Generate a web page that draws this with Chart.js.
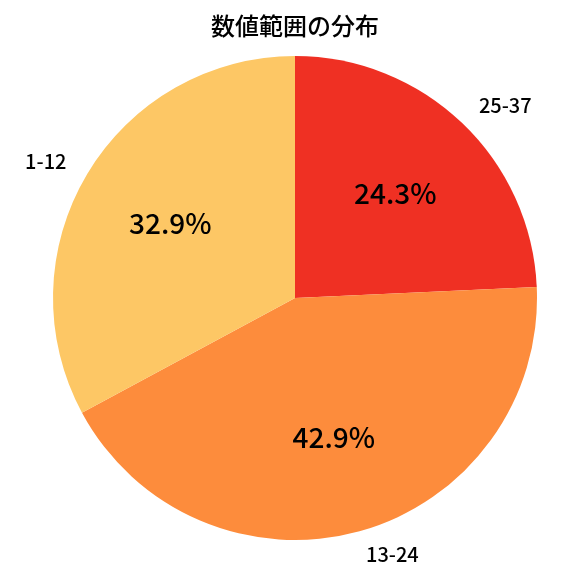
<!DOCTYPE html>
<html>
<head>
<meta charset="utf-8">
<script src="https://cdn.jsdelivr.net/npm/chart.js@4"></script>
<style>
  html, body { margin: 0; padding: 0; background: #fff; }
  #wrap { width: 576px; height: 576px; }
</style>
</head>
<body>
<div id="wrap"><canvas id="myChart"></canvas></div>
<script>
const categories = ['25-37', '13-24', '1-12'];
const values = [24.3, 42.9, 32.9];
const colors = ['#ef3023', '#fd8c3c', '#fdc765'];

const FONT = '"Noto Sans CJK JP", "Noto Sans", sans-serif';

// centre text on its ink box, like matplotlib's va='center'
function drawCentered(ctx, text, x, y) {
    const m = ctx.measureText(text);
    const h = m.actualBoundingBoxAscent - m.actualBoundingBoxDescent;
    ctx.fillText(text, x, y + h / 2);
}

// draws category outside at 1.1r, percent inside at 0.6r
const pieLabels = {
    id: 'pieLabels',
    afterDatasetsDraw(chart) {
        const ctx = chart.ctx;
        const meta = chart.getDatasetMeta(0);
        const total = values.reduce((a, b) => a + b, 0);
        ctx.save();
        ctx.fillStyle = '#000';
        ctx.textBaseline = 'alphabetic';
        meta.data.forEach((arc, i) => {
            const p = arc.getProps(['x', 'y', 'startAngle', 'endAngle', 'outerRadius'], true);
            const mid = (p.startAngle + p.endAngle) / 2;
            const cos = Math.cos(mid), sin = Math.sin(mid);

            ctx.font = '500 28px ' + FONT;
            ctx.textAlign = 'center';
            const pct = (values[i] / total * 100).toFixed(1) + '%';
            drawCentered(ctx, pct, p.x + cos * p.outerRadius * 0.6, p.y + sin * p.outerRadius * 0.6);

            ctx.font = '500 20px ' + FONT;
            ctx.textAlign = cos >= 0 ? 'left' : 'right';
            drawCentered(ctx, categories[i], p.x + cos * p.outerRadius * 1.1, p.y + sin * p.outerRadius * 1.1);
        });
        ctx.restore();
    }
};

new Chart(document.getElementById('myChart'), {
    type: 'pie',
    data: {
        labels: categories,
        datasets: [{
            data: values,
            backgroundColor: colors,
            borderWidth: 0
        }]
    },
    options: {
        responsive: true,
        maintainAspectRatio: false,
        animation: false,
        layout: { padding: { left: 14, right: 0, top: 0, bottom: 36 } },
        plugins: {
            legend: { display: false },
            tooltip: { enabled: false },
            title: {
                display: true,
                text: '数値範囲の分布',
                color: '#000',
                font: { family: FONT, size: 24, weight: 500 },
                padding: { top: 11, bottom: 16.2 }
            }
        }
    },
    plugins: [pieLabels]
});
</script>
</body>
</html>
